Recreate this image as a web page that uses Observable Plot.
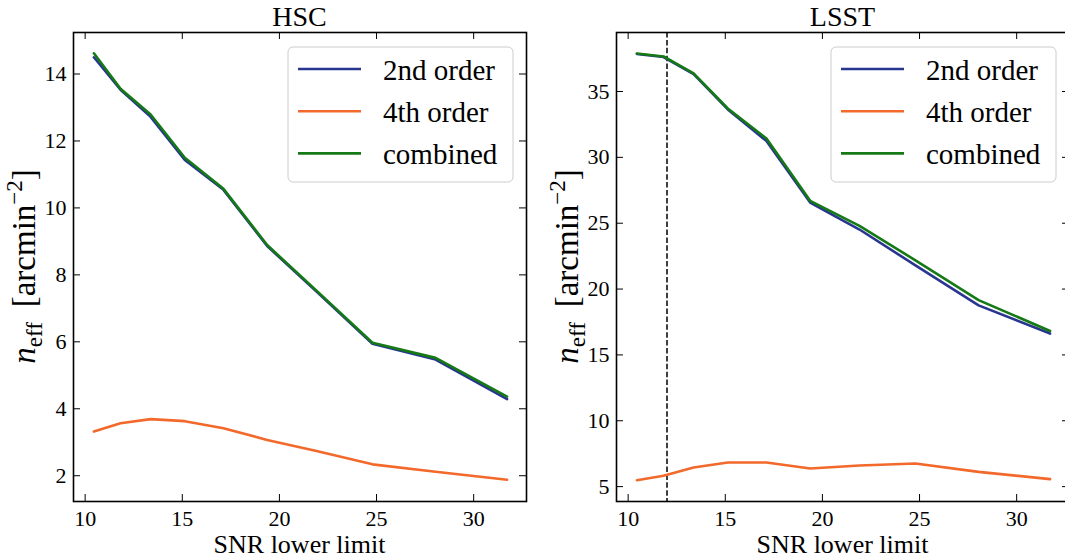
<!DOCTYPE html>
<html><head><meta charset="utf-8">
<script src="https://cdn.jsdelivr.net/npm/d3@7"></script>
<script src="https://cdn.jsdelivr.net/npm/@observablehq/plot@0.6"></script>
<style>
html,body{margin:0;padding:0;background:#fff;overflow:hidden;width:1065px;height:560px;}
#c{position:relative;width:1065px;height:560px;overflow:hidden;}
.panel{position:absolute;top:0;}
</style></head><body><div id="c"></div>
<script>
// ---- data ----
const snr   = [10.45, 11.82, 13.37, 15.13, 17.12, 19.37, 21.91, 24.79, 28.04, 31.72];
const hsc2  = [14.50, 13.53, 12.72, 11.43, 10.54, 8.86, 7.50, 5.94, 5.47, 4.29];
const hsc4  = [3.32, 3.57, 3.69, 3.63, 3.42, 3.07, 2.74, 2.34, 2.12, 1.88];
const hscC  = [14.62, 13.56, 12.79, 11.50, 10.57, 8.89, 7.53, 5.97, 5.52, 4.36];
const lsst2 = [37.85, 37.62, 36.32, 33.64, 31.24, 26.57, 24.52, 21.80, 18.76, 16.62];
const lsst4 = [5.49, 5.82, 6.45, 6.83, 6.83, 6.37, 6.60, 6.75, 6.12, 5.57];
const lsstC = [37.89, 37.66, 36.37, 33.71, 31.43, 26.70, 24.80, 22.18, 19.16, 16.82];
const seriesNames  = ["2nd order", "4th order", "combined"];
const seriesColors = ["#28368f", "#f2692b", "#157a15"];
const xTicks     = [10, 15, 20, 25, 30];
const hscYTicks  = [2, 4, 6, 8, 10, 12, 14];
const lsstYTicks = [5, 10, 15, 20, 25, 30, 35];
const lsstCut    = [12];
const panelTitles = ["HSC", "LSST"];
const xLabel = "SNR lower limit";

function rows(arrs) {
  const out = [];
  arrs.forEach((arr, k) => arr.forEach((v, i) => out.push({snr: snr[i], value: v, series: seriesNames[k]})));
  return out;
}

const W = 540, H = 560;
const FONT = "'Liberation Serif', 'Times New Roman', serif";

function panel({title, data, yDomain, yTicks, left, mLeft, mRight, cut}) {
  const mTop = 32, mBottom = 59;
  const fw = W - mLeft - mRight, fh = H - mTop - mBottom;
  const marks = [
    Plot.axisX({ticks: xTicks, tickSize: 0, tickPadding: 9, label: null}),
    Plot.axisY({ticks: yTicks, tickSize: 0, tickPadding: 7, label: null}),
    Plot.tickX(xTicks, {x: d => d, insetTop: fh - 7, stroke: "black", strokeWidth: 1}),
    Plot.tickX(xTicks, {x: d => d, insetBottom: fh - 7, stroke: "black", strokeWidth: 1}),
    Plot.tickY(yTicks, {y: d => d, insetRight: fw - 7, stroke: "black", strokeWidth: 1}),
    Plot.tickY(yTicks, {y: d => d, insetLeft: fw - 7, stroke: "black", strokeWidth: 1})
  ];
  if (cut) marks.push(Plot.ruleX(cut, {x: d => d, stroke: "black", strokeWidth: 1.5, strokeDasharray: "5.5,2.4"}));
  marks.push(Plot.line(data, {x: "snr", y: "value", z: "series", stroke: "series", strokeWidth: 2.6, strokeLinejoin: "round"}));
  marks.push(Plot.frame({stroke: "black", strokeWidth: 1.6}));
  const svg = Plot.plot({
    width: W, height: H,
    marginLeft: mLeft, marginRight: mRight, marginTop: mTop, marginBottom: mBottom,
    style: {fontFamily: FONT, fontSize: "22px", color: "black", background: "transparent", overflow: "visible"},
    x: {domain: [9.40, 32.72], label: null},
    y: {domain: yDomain, label: null},
    color: {domain: seriesNames, range: seriesColors},
    marks
  });
  svg.classList.add("panel");
  svg.style.left = left + "px";
  const s = d3.select(svg);
  s.selectAll("text").style("font-family", FONT).style("font-size", "22px").attr("fill", "black");
  const cx = mLeft + fw / 2;
  // title
  s.append("text").attr("x", cx).attr("y", 25.5).attr("text-anchor", "middle")
    .style("font-size", "28px").attr("fill", "black").text(title);
  // x label
  s.append("text").attr("x", cx).attr("y", 553).attr("text-anchor", "middle")
    .style("font-size", "26px").attr("fill", "black").text(xLabel);
  // y label
  const yl = s.append("text").attr("transform", `translate(${mLeft - 38},${mTop + fh / 2}) rotate(-90)`)
    .attr("text-anchor", "middle").style("font-size", "33px").attr("fill", "black");
  yl.append("tspan").attr("font-style", "italic").text("n");
  yl.append("tspan").style("font-size", "23px").attr("dy", 7).text("eff");
  yl.append("tspan").attr("dy", -7).text("\u2009 [arcmin");
  yl.append("tspan").style("font-size", "23px").attr("dy", -13).text("\u22122");
  yl.append("tspan").attr("dy", 13).text("]");
  // legend
  const bw = 225, bh = 135;
  const bx = mLeft + fw - 13 - bw, by = 47;
  const g = s.append("g");
  g.append("rect").attr("x", bx).attr("y", by).attr("width", bw).attr("height", bh).attr("rx", 5)
    .attr("fill", "white").attr("fill-opacity", 0.8).attr("stroke", "#cccccc").attr("stroke-width", 1);
  seriesNames.forEach((name, i) => {
    const ly = by + 22 + i * 42.2;
    g.append("line").attr("x1", bx + 10).attr("x2", bx + 73).attr("y1", ly).attr("y2", ly)
      .attr("stroke", seriesColors[i]).attr("stroke-width", 2.6);
    g.append("text").attr("x", bx + 95).attr("y", ly + 10.5).attr("text-anchor", "start")
      .style("font-size", "29px").attr("fill", "black").text(name);
  });
  s.selectAll("text").style("font-family", FONT);
  document.getElementById("c").appendChild(svg);
}

panel({title: panelTitles[0], data: rows([hsc2, hsc4, hscC]), yDomain: [1.23, 15.24], yTicks: hscYTicks,
       left: 0, mLeft: 73, mRight: 14});
panel({title: panelTitles[1], data: rows([lsst2, lsst4, lsstC]), yDomain: [3.87, 39.48], yTicks: lsstYTicks,
       left: 540, mLeft: 76, mRight: 11, cut: lsstCut});
</script></body></html>
